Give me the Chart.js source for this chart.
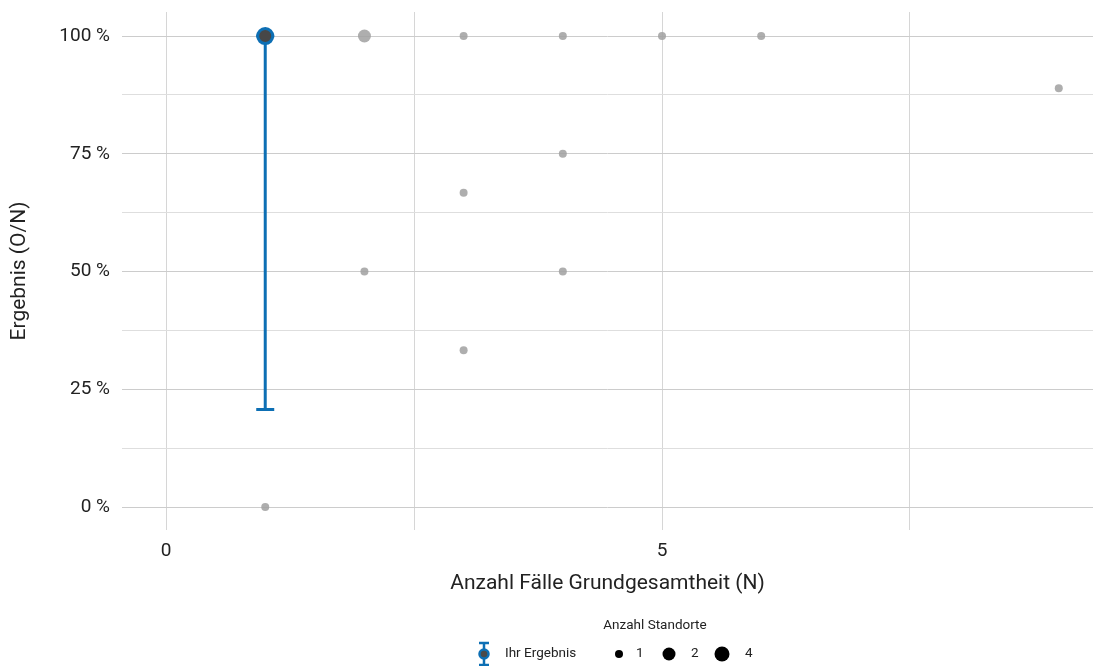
<!DOCTYPE html>
<html><head><meta charset="utf-8">
<script src="https://cdn.jsdelivr.net/npm/chart.js@4"></script>
<style>html,body{margin:0;padding:0;background:#fff}#wrap{width:1093px;height:666px}</style>
</head><body><div id="wrap"><canvas id="c" width="1093" height="666"></canvas></div>
<script>
// Data
const otherX = [1, 1, 2, 2, 3, 3, 3, 4, 4, 4, 5, 6, 9];
const otherY = [100, 0, 100, 50, 100, 66.7, 33.3, 100, 75, 50, 100, 100, 88.9];
const otherN = [1, 1, 2, 1, 1, 1, 1, 1, 1, 1, 1, 1, 1];
const ownX = [1];
const ownY = [100];
const ownLower = [20.7];
const xTicks = [0, 2.5, 5, 7.5];
const xLabels = ['0', '', '5', ''];
const yTicks = [0, 12.5, 25, 37.5, 50, 62.5, 75, 87.5, 100];
const yLabels = ['0 %', '', '25 %', '', '50 %', '', '75 %', '', '100 %'];
const legendSizes = [1, 2, 4];

const BLUE = '#0d6fb4';
const GRAY = 'rgba(160,160,160,0.85)';
const FONT = 'Roboto';
const radiusFor = n => n === 1 ? 4 : (n === 2 ? 6.5 : 8);
const legendRadius = n => n === 1 ? 4 : (n === 2 ? 6.5 : 7.5);

const legendPlugin = {
  id: 'customLegend',
  afterDraw(chart) {
    const ctx = chart.ctx;
    ctx.save();
    ctx.fillStyle = '#222';
    ctx.font = '13.5px ' + FONT;
    ctx.textBaseline = 'middle';
    ctx.textAlign = 'center';
    ctx.fillText('Anzahl Standorte', 655, 626);
    // error bar icon
    const ix = 484, iy = 654;
    ctx.strokeStyle = BLUE; ctx.lineWidth = 2.5;
    ctx.beginPath();
    ctx.moveTo(ix, iy - 11); ctx.lineTo(ix, iy + 11);
    ctx.moveTo(ix - 5, iy - 11); ctx.lineTo(ix + 5, iy - 11);
    ctx.moveTo(ix - 5, iy + 11); ctx.lineTo(ix + 5, iy + 11);
    ctx.stroke();
    ctx.beginPath(); ctx.arc(ix, iy, 4.5, 0, Math.PI * 2);
    ctx.fillStyle = '#4a4a4a'; ctx.fill();
    ctx.lineWidth = 2.5; ctx.stroke();
    ctx.fillStyle = '#222';
    ctx.textAlign = 'left';
    ctx.fillText('Ihr Ergebnis', 505, iy);
    const dotX = [619, 669, 722];
    const txtX = [636, 691, 745];
    legendSizes.forEach((n, i) => {
      ctx.beginPath(); ctx.arc(dotX[i], iy, legendRadius(n), 0, Math.PI * 2);
      ctx.fillStyle = '#000'; ctx.fill();
      ctx.fillStyle = '#222';
      ctx.fillText(String(n), txtX[i], iy);
    });
    ctx.restore();
  }
};

const majorGrid = ctx => {
  const v = ctx.tick ? ctx.tick.value : 0;
  return (v % 25 === 0) ? '#cccccc' : '#dedede';
};

new Chart(document.getElementById('c'), {
  type: 'scatter',
  data: {
    datasets: [
      {
        label: 'Ihr Ergebnis',
        data: ownX.map((x, i) => ({x, y: ownY[i]})),
        pointRadius: 7.5, pointHoverRadius: 7.5,
        pointBorderWidth: 3,
        borderColor: BLUE, backgroundColor: '#474747',
        order: 0
      },
      {
        label: 'Fehlerbalken',
        type: 'line',
        data: ownX.flatMap((x, i) => [{x, y: ownY[i]}, {x, y: ownLower[i]}]),
        borderColor: BLUE, borderWidth: 3,
        pointStyle: 'line', pointRadius: 9, pointBorderWidth: 3,
        pointBorderColor: BLUE, pointBackgroundColor: BLUE,
        showLine: true, fill: false,
        order: 1
      },
      {
        label: 'Standorte',
        data: otherX.map((x, i) => ({x, y: otherY[i]})),
        pointRadius: otherN.map(radiusFor),
        pointHoverRadius: otherN.map(radiusFor),
        pointBorderWidth: 0,
        backgroundColor: GRAY, borderColor: GRAY,
        order: 2
      }
    ]
  },
  options: {
    responsive: false, animation: false,
    layout: { autoPadding: false, padding: { top: 12, right: 0, bottom: 70, left: 0 } },
    plugins: { legend: { display: false }, tooltip: { enabled: false } },
    scales: {
      x: {
        type: 'linear', min: -0.444, max: 9.345,
        afterBuildTicks: s => { s.ticks = xTicks.map(v => ({value: v})); },
        afterFit: s => { s.height = 66; s.paddingLeft = 0; s.paddingRight = 0; },
        ticks: { callback: (v) => xLabels[xTicks.indexOf(v)] ?? '', color: '#222',
          font: { family: FONT, size: 19 }, padding: 10, maxRotation: 0 },
        grid: { color: '#d6d6d6', drawTicks: false, lineWidth: 1 },
        border: { display: false },
        title: { display: true, text: 'Anzahl Fälle Grundgesamtheit (N)', color: '#222',
          font: { family: FONT, size: 21 }, padding: { top: 9, bottom: 0 } }
      },
      y: {
        type: 'linear', min: -4.88, max: 105.1,
        afterBuildTicks: s => { s.ticks = yTicks.map(v => ({value: v})); },
        afterFit: s => { s.width = 122; s.paddingTop = 0; s.paddingBottom = 0; },
        ticks: { callback: (v) => yLabels[yTicks.indexOf(v)] ?? '', color: '#222',
          font: { family: FONT, size: 19 }, padding: 12 },
        grid: { color: majorGrid, drawTicks: false, lineWidth: 1 },
        border: { display: false },
        title: { display: true, text: 'Ergebnis (O/N)', color: '#222',
          font: { family: FONT, size: 21 }, padding: { top: 7, bottom: 0 } }
      }
    }
  },
  plugins: [legendPlugin]
});
</script></body></html>
